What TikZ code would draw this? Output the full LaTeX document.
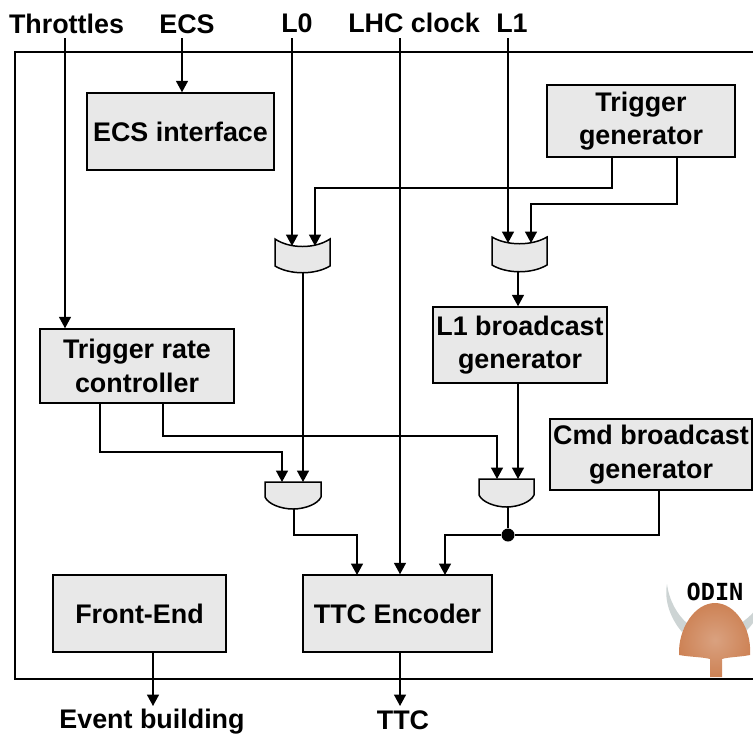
\documentclass[tikz,border=0pt]{standalone}
\usepackage{fontspec}
\setmainfont{Liberation Sans}
\newfontfamily\odinfont{DejaVu Sans Mono}
\usetikzlibrary{arrows.meta,calc}
\definecolor{boxgrey}{RGB}{232,232,232}
\definecolor{helmet}{RGB}{205,130,85}
\definecolor{horn}{RGB}{205,212,212}

\begin{document}
\begin{tikzpicture}[
    x=0.02cm, y=-0.02cm,
    font=\bfseries\fontsize{15.3}{19}\selectfont,
    block/.style={rectangle, draw=black, fill=boxgrey, line width=0.85pt, align=center, inner sep=0pt},
    caption/.style={align=center, inner sep=0pt},
    gate/.style={draw=black, fill=boxgrey, line width=0.85pt},
    wire/.style={line width=0.85pt},
    arrow/.style={wire, -{Triangle[length=6.5pt,width=6.8pt]}},
    joint/.style={circle, fill=black, inner sep=0pt, minimum size=0.26cm}
]
    \useasboundingbox (0,0) rectangle (753,734);

    % Frame
    \node[draw=black, line width=0.85pt, minimum width=14.9cm, minimum height=12.54cm, inner sep=0pt] (frame) at (387.5,365.5) {};

    % Labels outside the frame
    \node[caption] (throttles) at (66.5,24) {Throttles};
    \node[caption] (ecs) at (187,24) {ECS};
    \node[caption] (lzero) at (297,23) {L0};
    \node[caption] (clock) at (414,23) {LHC clock};
    \node[caption] (lone) at (512,23) {L1};
    \node[caption] (evbuild) at (152,722) {Event building};
    \node[caption] (ttc) at (403,720) {TTC};

    % Blocks
    \node[block, minimum width=3.74cm, minimum height=1.54cm] (ecsif) at (180.5,131.5) {ECS interface};
    \node[block, minimum width=3.76cm, minimum height=1.44cm] (trggen) at (641,121) {Trigger\\generator};
    \node[block, minimum width=3.88cm, minimum height=1.48cm] (ratectrl) at (137,366) {Trigger rate\\controller};
    \node[block, minimum width=3.48cm, minimum height=1.52cm] (lonegen) at (520,345) {L1 broadcast\\generator};
    \node[block, minimum width=4.04cm, minimum height=1.42cm] (cmdgen) at (651,454.5) {Cmd broadcast\\generator};
    \node[block, minimum width=3.46cm, minimum height=1.54cm] (frontend) at (139.5,613.5) {Front-End};
    \node[block, minimum width=3.78cm, minimum height=1.54cm] (encoder) at (397.5,613.5) {TTC Encoder};

    % Multiplexers
    \draw[gate] (275,239) .. controls (290,249) and (315,249) .. (330,239) -- (330,266)
        .. controls (315,275) and (290,275) .. (275,266) -- cycle;
    \draw[gate] (492,237) .. controls (507,246) and (532,246) .. (547,237) -- (547,265)
        .. controls (532,274) and (507,274) .. (492,265) -- cycle;

    % AND gates
    \draw[gate] (265,482) -- (321,482) -- (321,497) .. controls (318,504) and (305,509) .. (293,509)
        .. controls (281,509) and (268,504) .. (265,497) -- cycle;
    \draw[gate] (479,479) -- (534,479) -- (534,495) .. controls (531,502) and (518,507) .. (506.5,507)
        .. controls (495,507) and (482,502) .. (479,495) -- cycle;

    % Wire ends and pins
    \coordinate (throttlesout) at (65,38);
    \coordinate (ecsout) at (182,38);
    \coordinate (lzeroout) at (292,38);
    \coordinate (clockout) at (400,38);
    \coordinate (loneout) at (508,38);
    \coordinate (evbuildin) at (153,706);
    \coordinate (ttcin) at (400,706);
    \coordinate (muxlina) at (292,246);
    \coordinate (muxlinb) at (315,246);
    \coordinate (muxlout) at (303,273);
    \coordinate (muxrina) at (508,243);
    \coordinate (muxrinb) at (531,243);
    \coordinate (muxrout) at (518,272);
    \coordinate (andlina) at (282,482);
    \coordinate (andlinb) at (303,482);
    \coordinate (andlout) at (294,509);
    \coordinate (andrina) at (497,479);
    \coordinate (andrinb) at (518,479);
    \coordinate (androut) at (508,507);
    \node[joint] (dot) at (508,535) {};

    % Inputs
    \draw[arrow] (throttlesout) -- (throttlesout |- ratectrl.north);
    \draw[arrow] (ecsout) -- (ecsout |- ecsif.north);
    \draw[arrow] (lzeroout) -- (muxlina);
    \draw[arrow] (loneout) -- (muxrina);
    \draw[arrow] (clockout) -- (clockout |- encoder.north);

    % Trigger generator to multiplexers
    \draw[arrow] (612,157) |- (muxlinb |- 0,188) -- (muxlinb);
    \draw[arrow] (677,157) |- (muxrinb |- 0,204) -- (muxrinb);

    % Multiplexers onward
    \draw[arrow] (muxlout) -- (andlinb);
    \draw[arrow] (muxrout) -- (muxrout |- lonegen.north);
    \draw[arrow] (muxrout |- lonegen.south) -- (andrinb);

    % Rate controller to gates
    \draw[arrow] (100,403) |- (andlina |- 0,452) -- (andlina);
    \draw[arrow] (163,403) |- (andrina |- 0,436) -- (andrina);

    % Towards the encoder
    \draw[arrow] (andlout) |- (357,535) -- (357,575);
    \draw[wire] (androut) -- (dot);
    \draw[arrow] (dot) -| (445,575);
    \draw[wire] (659,490) |- (dot);

    % Outputs
    \draw[arrow] (evbuildin |- frontend.south) -- (evbuildin);
    \draw[arrow] (ttcin |- encoder.south) -- (ttcin);

    % Logo
    \fill[horn] (682,632) .. controls (670,618) and (664,600) .. (667,584) .. controls (669,600) and (677,615) .. (688,624) -- cycle;
    \fill[horn] (745,632) .. controls (749,628) and (752,625) .. (755,620) -- (755,610) .. controls (752,615) and (745,620) .. (740,624) -- cycle;
    \shade[inner color=helmet!75!white, outer color=helmet] (679,655) .. controls (678,628) and (695,603) .. (715,603)
        .. controls (735,603) and (752,628) .. (750,655) .. controls (740,657) and (728,657) .. (722,659)
        -- (722,677) -- (710,677) -- (710,659) .. controls (703,657) and (690,657) .. (679,655) -- cycle;
    \node[inner sep=0pt, font=\odinfont\bfseries\fontsize{13.4}{14}\selectfont] (odin) at (715,592) {ODIN};
\end{tikzpicture}
\end{document}
